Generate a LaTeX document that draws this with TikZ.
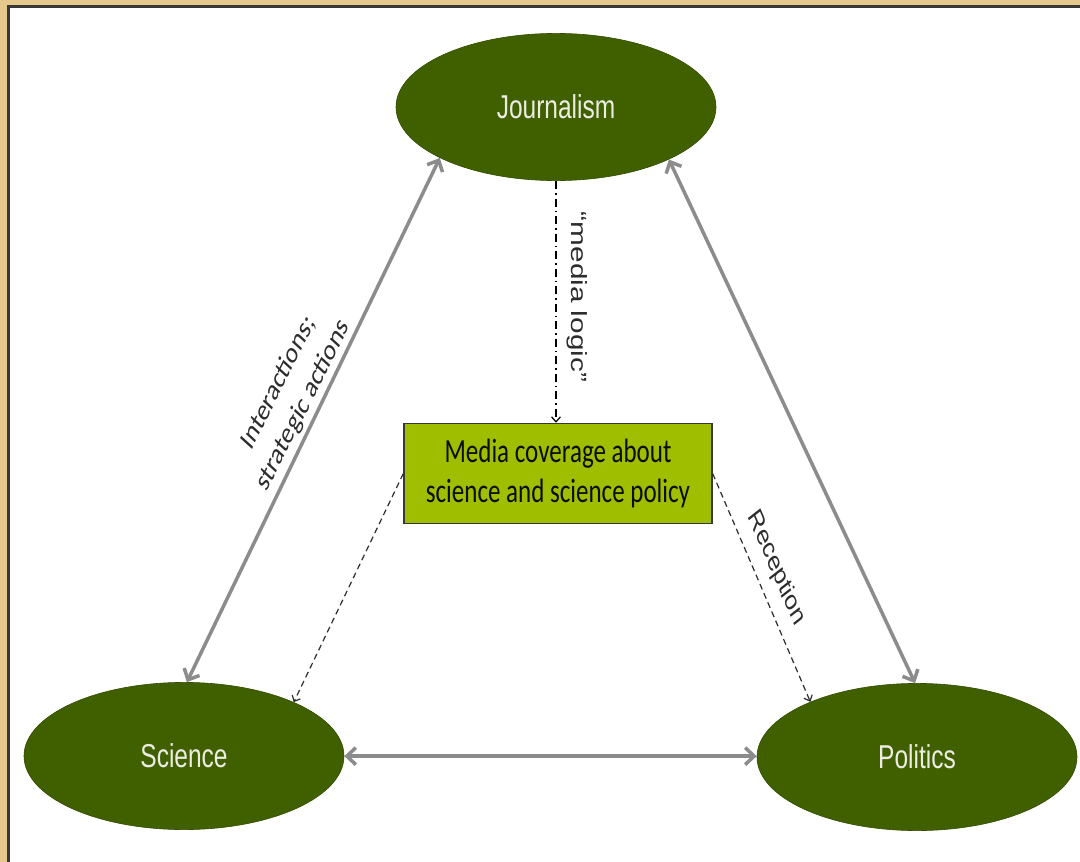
\documentclass[tikz,border=0pt]{standalone}
\usepackage{fontspec}
\newfontfamily\arialfont{Liberation Sans}
\newfontfamily\calibrifont{Carlito}
\usetikzlibrary{shapes.geometric,arrows.meta}
\definecolor{framebeige}{RGB}{228,200,140}
\definecolor{framedark}{RGB}{55,55,55}
\definecolor{olive}{RGB}{64,96,0}
\definecolor{lime}{RGB}{160,190,0}
\definecolor{linkgray}{RGB}{140,140,140}
\definecolor{inkdark}{RGB}{45,45,45}
\definecolor{paletext}{RGB}{236,236,226}
\tikzset{
  actor/.style={ellipse, fill=olive, draw=olive!80!black, line width=0.6pt,
    minimum width=320pt, minimum height=109pt, inner sep=0pt,
    text=paletext, font=\arialfont\fontsize{24.5}{28}\selectfont},
  mediabox/.style={rectangle, fill=lime, draw=framedark, line width=1.4pt,
    minimum width=308pt, minimum height=74pt, inner sep=0pt, align=center,
    text=black!85!olive, font=\calibrifont\fontsize{25}{29.5}\selectfont},
  link/.style={draw=linkgray, line width=3.5pt,
    {Straight Barb[length=9pt,width=17pt]}-{Straight Barb[length=9pt,width=17pt]}},
  flow/.style={draw=inkdark, line width=1.2pt, dash pattern=on 6pt off 4pt,
    -{Straight Barb[length=5pt,width=9pt]}},
  logicflow/.style={draw=black, line width=1.2pt,
    dash pattern=on 8pt off 4pt on 1.5pt off 4pt,
    -{Straight Barb[length=5pt,width=9pt]}},
  tag/.style={text=inkdark, inner sep=0pt}
}
\begin{document}
\begin{tikzpicture}[x=1pt, y=-0.740741pt, yscale=1.35, transform shape]
  \useasboundingbox (0,0) rectangle (1080,862);
  % slide frame
  \fill[framebeige] (0,0) rectangle (1080,862);
  \fill[white] (8,6) rectangle (1080,862);
  \draw[framedark, line width=3pt] (8.5,862) -- (8.5,6.5) -- (1080,6.5);

  % actors
  \node[actor] (J) at (556,107) {Journalism};
  \node[actor] (S) at (184,756) {Science};
  \node[actor] (P) at (917,757) {Politics};

  % media coverage
  \node[mediabox] (M) at (558,473.5) {Media coverage about\\science and science policy};

  % mutual relations
  \draw[link] (S.87) -- (J.198.5);
  \draw[link] (J.341) -- (P.92);
  \draw[link] (S.east) -- (P.west |- S.east);

  % media logic and reception
  \draw[logicflow] (J.south) -- (M.north -| J.south);
  \draw[flow] (M.west) -- (S.20);
  \draw[flow] (M.east) -- (P.159.4);

  % labels
  \node[tag, rotate=-90, font=\arialfont\fontsize{22}{26}\selectfont] (logic) at (577,297) {“media logic”};
  \node[tag, rotate=-60, font=\arialfont\fontsize{21}{25}\selectfont] (recep) at (776,568) {Reception};
  \node[tag, rotate=56, align=center, font=\calibrifont\fontsize{22.5}{30}\selectfont] (inter) at (291,394) {Interactions;\\strategic actions};
\end{tikzpicture}
\end{document}
